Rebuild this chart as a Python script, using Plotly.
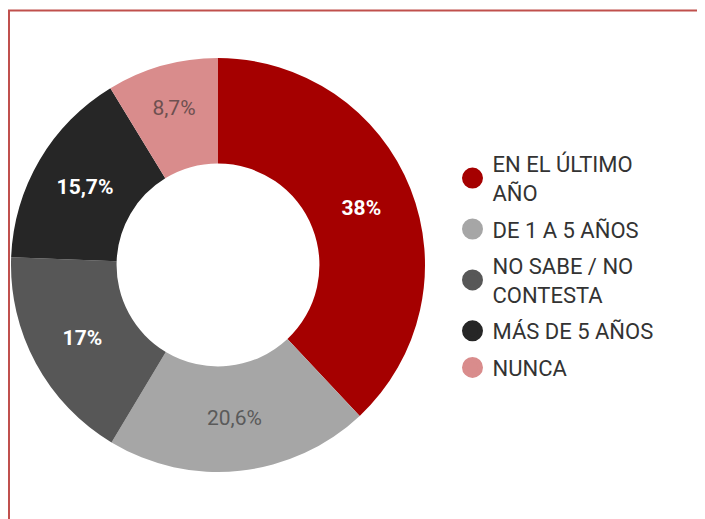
import plotly.graph_objects as go

categories = ["EN EL ÚLTIMO AÑO", "DE 1 A 5 AÑOS", "NO SABE / NO CONTESTA", "MÁS DE 5 AÑOS", "NUNCA"]
legend_labels = ["EN EL ÚLTIMO<br>AÑO", "DE 1 A 5 AÑOS", "NO SABE / NO<br>CONTESTA", "MÁS DE 5 AÑOS", "NUNCA"]
values = [38, 20.6, 17, 15.7, 8.7]
colors = ["#a50000", "#a6a6a6", "#575757", "#262626", "#d98c8c"]
label_colors = ["#ffffff", "#5a5a5a", "#ffffff", "#ffffff", "#6e5050"]
label_bold = [True, False, True, True, False]

def fmt(v):
    return ("%g" % v).replace(".", ",") + "%"

texts = [("<b>%s</b>" % fmt(v)) if b else fmt(v) for v, b in zip(values, label_bold)]

W, H = 705, 519
OFF = 8  # page body margin offset

fig = go.Figure()
fig.add_trace(go.Pie(
    labels=categories, values=values, text=texts, textinfo="text",
    texttemplate="%{text}", hoverinfo="label+percent",
    marker=dict(colors=colors, line=dict(width=0)),
    hole=0.49, sort=False, direction="clockwise", rotation=0,
    textposition="inside", insidetextorientation="horizontal",
    insidetextfont=dict(color=label_colors, size=21, family="Roboto"),
    showlegend=False,
    domain=dict(x=[(11 - OFF) / W, (425 - OFF) / W],
                y=[(H - (472 - OFF)) / H, (H - (58 - OFF)) / H]),
))
for i, (lab, col) in enumerate(zip(legend_labels, colors)):
    fig.add_trace(go.Scatter(
        x=[None], y=[None], mode="markers", name=lab,
        marker=dict(color=col, size=16, symbol="circle", line=dict(color=col, width=5)),
        legendgroup="g%d" % i, showlegend=True,
    ))

fig.update_layout(
    width=W, height=H, margin=dict(l=0, r=0, t=0, b=0),
    paper_bgcolor="white", plot_bgcolor="white",
    font=dict(family="Roboto", color="#333333"),
    xaxis=dict(visible=False), yaxis=dict(visible=False),
    legend=dict(x=444.5 / W, y=(H - 135) / H, xanchor="left", yanchor="top",
                font=dict(size=22, color="#333333", family="Roboto"),
                tracegroupgap=5, itemsizing="trace", bgcolor="rgba(0,0,0,0)"),
    shapes=[dict(type="rect", xref="paper", yref="paper",
                 x0=1 / W, x1=1.05, y0=-0.05, y1=(H - 2.5) / H,
                 line=dict(color="#c0504d", width=2))],
)
fig.write_html("out.html")
